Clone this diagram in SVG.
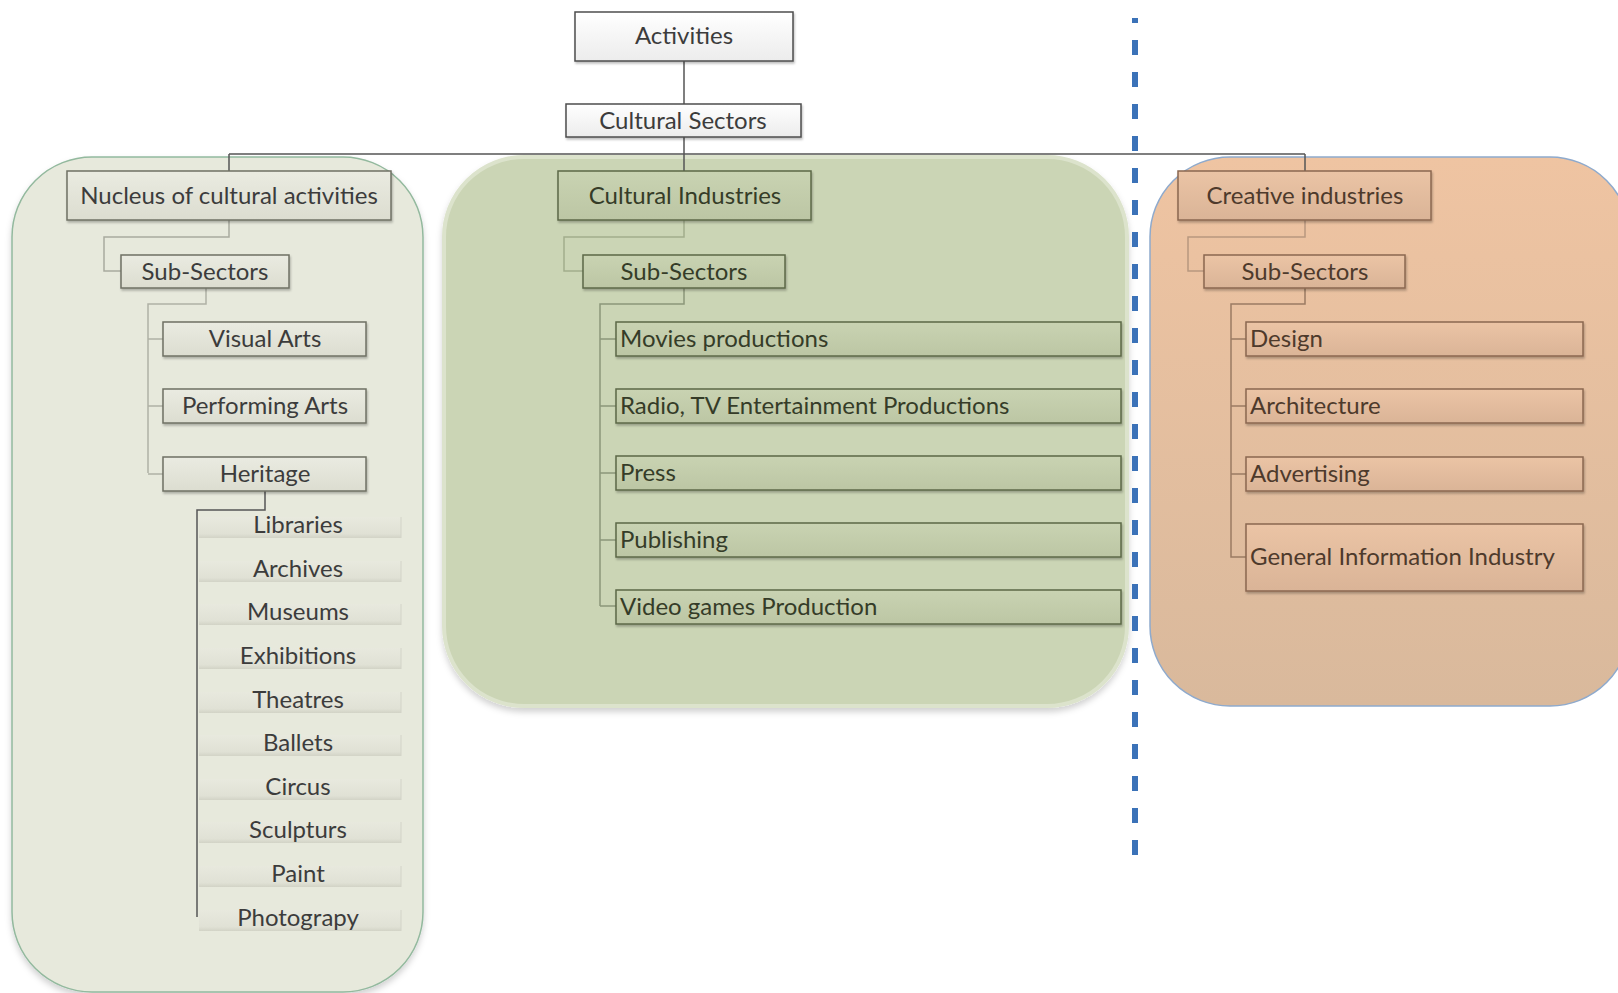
<svg xmlns="http://www.w3.org/2000/svg" width="1618" height="993" viewBox="0 0 1618 993">
<defs>
<linearGradient id="gWhite" x1="0" y1="0" x2="0" y2="1"><stop offset="0" stop-color="#ffffff"/><stop offset="1" stop-color="#ececec"/></linearGradient>
<linearGradient id="gLeft" x1="0" y1="0" x2="0" y2="1"><stop offset="0" stop-color="#eaebe1"/><stop offset="1" stop-color="#dcddd0"/></linearGradient>
<linearGradient id="gItem" x1="0" y1="0" x2="0" y2="1"><stop offset="0" stop-color="#e8e9de"/><stop offset="0.8" stop-color="#e0e1d5"/><stop offset="1" stop-color="#d2d3c6"/></linearGradient>
<linearGradient id="gMid" x1="0" y1="0" x2="0" y2="1"><stop offset="0" stop-color="#c9d3b2"/><stop offset="1" stop-color="#bcc6a4"/></linearGradient>
<linearGradient id="gRight" x1="0" y1="0" x2="0" y2="1"><stop offset="0" stop-color="#ebc4a5"/><stop offset="1" stop-color="#dab497"/></linearGradient>
<linearGradient id="gRightCont" x1="0" y1="0" x2="0" y2="1"><stop offset="0" stop-color="#efc4a2"/><stop offset="1" stop-color="#d9b99c"/></linearGradient>
<filter id="sh" x="-10%" y="-20%" width="120%" height="150%"><feDropShadow dx="1" dy="2" stdDeviation="1" flood-color="#000" flood-opacity="0.25"/></filter>
<filter id="shc" x="-10%" y="-10%" width="120%" height="120%"><feDropShadow dx="0" dy="4" stdDeviation="3" flood-color="#000" flood-opacity="0.18"/></filter>
</defs>
<style>
text{font-family:Lato,"Liberation Sans",sans-serif;font-size:24px;fill:#3c3c3c}
.c{text-anchor:middle}
.top{fill:url(#gWhite);stroke:#4d4d4d;stroke-width:1.5;filter:url(#sh)}
.lb{fill:url(#gLeft);stroke:#6f7064;stroke-width:1.5;filter:url(#sh)}
.mb{fill:url(#gMid);stroke:#5c6847;stroke-width:1.5;filter:url(#sh)}
.rb{fill:url(#gRight);stroke:#8a6750;stroke-width:1.5;filter:url(#sh)}
.it{fill:url(#gItem);stroke:none}
.mt{fill:#353c28}
.rt{fill:#4e3a2c}
.conn{fill:none;stroke-width:1.5}
</style>
<g id="containers">
<rect id="nucleus-area" x="12" y="157" width="411" height="835" rx="80" ry="80" fill="#e7e9dc" stroke="#93b99e" stroke-width="1.5" filter="url(#shc)"/>
<rect id="cultural-area" x="444" y="157" width="683" height="549" rx="80" ry="80" fill="#cbd5b5" stroke="#dce3cc" stroke-width="4" filter="url(#shc)"/>
<rect id="creative-area" x="1150" y="157" width="480" height="549" rx="80" ry="80" fill="url(#gRightCont)" stroke="#8eaacd" stroke-width="1.5"/>
</g>
<g id="connectors">
<path class="conn" stroke="#555" d="M684 61V104 M684 137V171 M229 154H1305 M229 154V171 M1305 154V171"/>
<path class="conn" stroke="#a9aa9e" d="M229 220V237H104V271H121"/>
<path class="conn" stroke="#b0b1a5" d="M206 288V304H148V473 M148 339H163 M148 406H163 M148 474H163"/>
<path class="conn" stroke="#555" stroke-width="2" d="M265 491V510H197V917"/>
<path class="conn" stroke="#a3ad8c" d="M684 220V237H564V271H583"/>
<path class="conn" stroke="#8c977a" d="M684 288V304H600V606 M600 339H616 M600 406H616 M600 473H616 M600 540H616 M600 606H616"/>
<path class="conn" stroke="#b8987f" d="M1305 220V237H1188V271H1204"/>
<path class="conn" stroke="#9b7b63" d="M1305 288V304H1231V557H1246 M1231 339H1246 M1231 406H1246 M1231 474H1246"/>
</g>
<g id="n-activities"><rect class="top" x="575" y="12" width="218" height="49"/><text class="c" x="684" y="44">Activities</text></g>
<g id="n-cultural-sectors"><rect class="top" x="566" y="104" width="235" height="33"/><text class="c" x="683" y="129">Cultural Sectors</text></g>
<g id="n-nucleus"><rect class="lb" x="67" y="171" width="324" height="49"/><text class="c" x="229" y="204">Nucleus of cultural activities</text></g>
<g id="n-sub-left"><rect class="lb" x="121" y="255" width="168" height="33"/><text class="c" x="205" y="280">Sub-Sectors</text></g>
<g id="n-visual"><rect class="lb" x="163" y="322" width="203" height="34"/><text class="c" x="265" y="347">Visual Arts</text></g>
<g id="n-performing"><rect class="lb" x="163" y="389" width="203" height="34"/><text class="c" x="265" y="414">Performing Arts</text></g>
<g id="n-heritage"><rect class="lb" x="163" y="457" width="203" height="34"/><text class="c" x="265" y="482">Heritage</text></g>
<g id="n-libraries"><rect class="it" x="199" y="517" width="202" height="21"/><line x1="401" y1="517" x2="401" y2="538" stroke="#d3d4c8"/><text class="c" x="298" y="533">Libraries</text></g>
<g id="n-archives"><rect class="it" x="199" y="561" width="202" height="21"/><line x1="401" y1="561" x2="401" y2="582" stroke="#d3d4c8"/><text class="c" x="298" y="577">Archives</text></g>
<g id="n-museums"><rect class="it" x="199" y="604" width="202" height="21"/><line x1="401" y1="604" x2="401" y2="625" stroke="#d3d4c8"/><text class="c" x="298" y="620">Museums</text></g>
<g id="n-exhibitions"><rect class="it" x="199" y="648" width="202" height="21"/><line x1="401" y1="648" x2="401" y2="669" stroke="#d3d4c8"/><text class="c" x="298" y="664">Exhibitions</text></g>
<g id="n-theatres"><rect class="it" x="199" y="692" width="202" height="21"/><line x1="401" y1="692" x2="401" y2="713" stroke="#d3d4c8"/><text class="c" x="298" y="708">Theatres</text></g>
<g id="n-ballets"><rect class="it" x="199" y="735" width="202" height="21"/><line x1="401" y1="735" x2="401" y2="756" stroke="#d3d4c8"/><text class="c" x="298" y="751">Ballets</text></g>
<g id="n-circus"><rect class="it" x="199" y="779" width="202" height="21"/><line x1="401" y1="779" x2="401" y2="800" stroke="#d3d4c8"/><text class="c" x="298" y="795">Circus</text></g>
<g id="n-sculpturs"><rect class="it" x="199" y="822" width="202" height="21"/><line x1="401" y1="822" x2="401" y2="843" stroke="#d3d4c8"/><text class="c" x="298" y="838">Sculpturs</text></g>
<g id="n-paint"><rect class="it" x="199" y="866" width="202" height="21"/><line x1="401" y1="866" x2="401" y2="887" stroke="#d3d4c8"/><text class="c" x="298" y="882">Paint</text></g>
<g id="n-photograpy"><rect class="it" x="199" y="910" width="202" height="21"/><line x1="401" y1="910" x2="401" y2="931" stroke="#d3d4c8"/><text class="c" x="298" y="926">Photograpy</text></g>
<g id="n-cultural-industries"><rect class="mb" x="558" y="171" width="253" height="49"/><text class="c mt" x="685" y="204">Cultural Industries</text></g>
<g id="n-sub-mid"><rect class="mb" x="583" y="255" width="202" height="33"/><text class="c mt" x="684" y="280">Sub-Sectors</text></g>
<g id="n-movies"><rect class="mb" x="616" y="322" width="505" height="34"/><text class="mt" x="620" y="347">Movies productions</text></g>
<g id="n-radio"><rect class="mb" x="616" y="389" width="505" height="34"/><text class="mt" x="620" y="414">Radio, TV Entertainment Productions</text></g>
<g id="n-press"><rect class="mb" x="616" y="456" width="505" height="34"/><text class="mt" x="620" y="481">Press</text></g>
<g id="n-publishing"><rect class="mb" x="616" y="523" width="505" height="34"/><text class="mt" x="620" y="548">Publishing</text></g>
<g id="n-video"><rect class="mb" x="616" y="590" width="505" height="34"/><text class="mt" x="620" y="615">Video games Production</text></g>
<g id="n-creative"><rect class="rb" x="1178" y="171" width="253" height="49"/><text class="c rt" x="1305" y="204">Creative industries</text></g>
<g id="n-sub-right"><rect class="rb" x="1204" y="255" width="201" height="33"/><text class="c rt" x="1305" y="280">Sub-Sectors</text></g>
<g id="n-design"><rect class="rb" x="1246" y="322" width="337" height="34"/><text class="rt" x="1250" y="347">Design</text></g>
<g id="n-architecture"><rect class="rb" x="1246" y="389" width="337" height="34"/><text class="rt" x="1250" y="414">Architecture</text></g>
<g id="n-advertising"><rect class="rb" x="1246" y="457" width="337" height="34"/><text class="rt" x="1250" y="482">Advertising</text></g>
<g id="n-general"><rect class="rb" x="1246" y="524" width="337" height="67"/><text class="rt" x="1250" y="565">General Information Industry</text></g>
<g id="divider"><line x1="1135" y1="18" x2="1135" y2="858" stroke="#3b72b8" stroke-width="6" stroke-dasharray="15 17" stroke-dashoffset="10"/></g>
</svg>
